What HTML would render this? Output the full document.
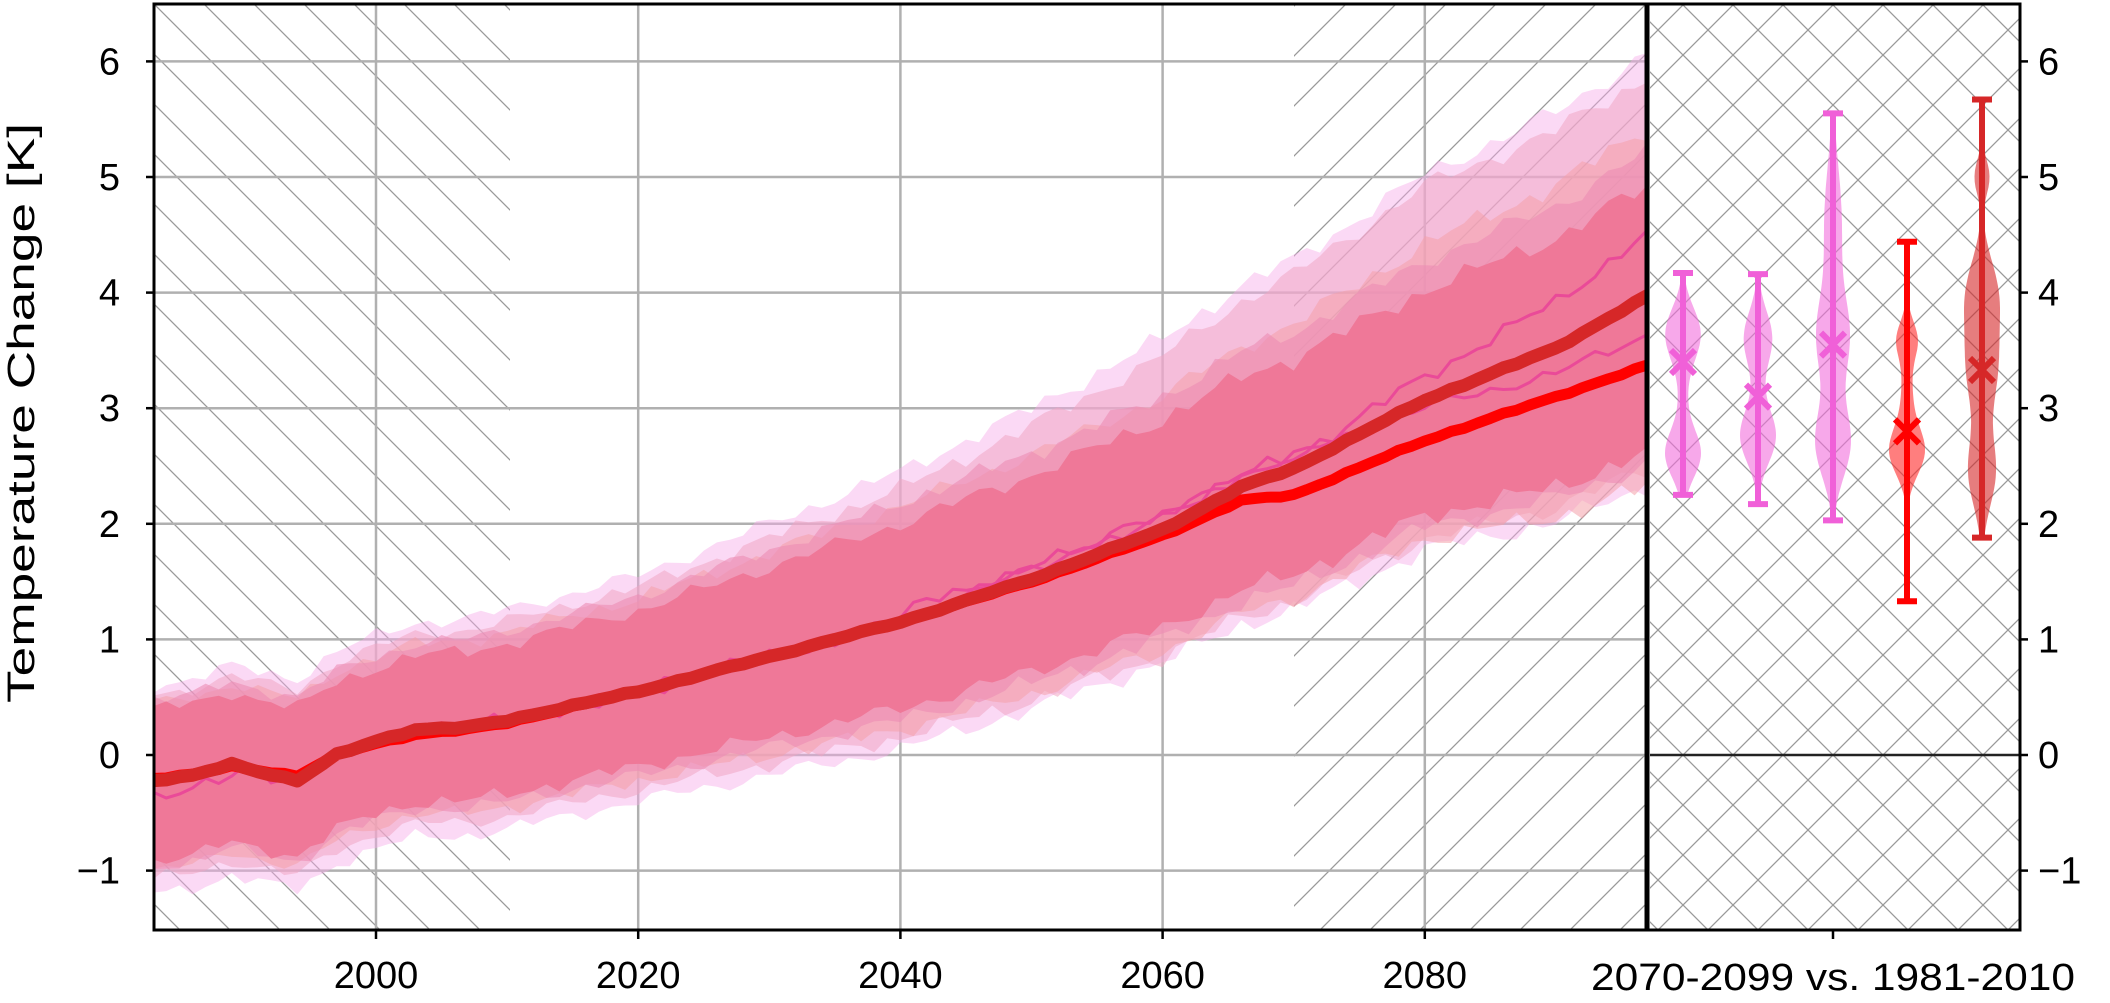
<!DOCTYPE html>
<html><head><meta charset="utf-8"><style>
html,body{margin:0;padding:0;background:#fff;}
svg{display:block;font-family:"Liberation Sans","DejaVu Sans",sans-serif;}
</style></head><body>
<svg id="s" width="2110" height="1003" viewBox="0 0 2110 1003" xmlns="http://www.w3.org/2000/svg">
<defs>
<pattern id="hb" patternUnits="userSpaceOnUse" x="0" y="0" width="50" height="50"><path d="M-5,-5 L55,55 M-5,45 L5,55 M45,-5 L55,5" stroke="#999" stroke-width="1.3"/></pattern>
<pattern id="hf" patternUnits="userSpaceOnUse" x="0" y="0" width="50" height="50"><path d="M-5,55 L55,-5 M-5,5 L5,-5 M45,55 L55,45" stroke="#999" stroke-width="1.3"/></pattern>
<pattern id="hx" patternUnits="userSpaceOnUse" width="50" height="50" x="1683" y="5"><path d="M-5,-5 L55,55 M-5,45 L5,55 M45,-5 L55,5 M-5,55 L55,-5 M-5,5 L5,-5 M45,55 L55,45" stroke="#999" stroke-width="1.3"/></pattern>
<clipPath id="cm"><rect x="154" y="4" width="1492" height="926"/></clipPath>
</defs>
<rect x="154" y="4" width="356" height="926" fill="url(#hb)"/>
<rect x="1294" y="4" width="352" height="926" fill="url(#hf)"/>
<rect x="1650" y="4" width="370" height="926" fill="url(#hx)"/>
<g id="grid" stroke="#b0b0b0" stroke-width="2.5"></g>
<g id="bands" clip-path="url(#cm)"></g>
<g id="lines" clip-path="url(#cm)" fill="none" stroke-linejoin="round"></g>
<line x1="1650" y1="755" x2="2020" y2="755" stroke="#222" stroke-width="2.5"/>
<g id="vio"></g>
<rect x="154" y="4" width="1492" height="926" fill="none" stroke="#000" stroke-width="3"/>
<rect x="1648" y="4" width="372" height="926" fill="none" stroke="#000" stroke-width="3"/>
<g id="ticks" stroke="#000" stroke-width="2.5"></g>
<g id="labels" font-size="38" fill="#000"></g>
<text x="0" y="0" transform="translate(34,413) rotate(-90)" text-anchor="middle" font-size="38" textLength="580" lengthAdjust="spacingAndGlyphs">Temperature Change [K]</text>
<text x="1833" y="990" text-anchor="middle" font-size="38" textLength="484" lengthAdjust="spacingAndGlyphs">2070-2099 vs. 1981-2010</text>
</svg>
<script>
const NS="http://www.w3.org/2000/svg";
function el(p,t,a){const e=document.createElementNS(NS,t);for(const k in a)e.setAttribute(k,a[k]);p.appendChild(e);return e;}
const X=y=>376+(y-2000)*13.11, Y=v=>755-115.6*v;
const g=document.getElementById('grid'),tk=document.getElementById('ticks'),lb=document.getElementById('labels');
for(let v=-1;v<=6;v++){el(g,'line',{x1:154,x2:1646,y1:Y(v),y2:Y(v)});
 el(tk,'line',{x1:146,x2:154,y1:Y(v),y2:Y(v)});el(tk,'line',{x1:2020,x2:2028,y1:Y(v),y2:Y(v)});
 const s=v<0?'\u2212'+(-v):''+v;
 el(lb,'text',{x:120,y:Y(v)+13,'text-anchor':'end'}).textContent=s;
 el(lb,'text',{x:2038,y:Y(v)+13,'text-anchor':'start'}).textContent=s;}
for(let y=2000;y<=2080;y+=20){el(g,'line',{x1:X(y),x2:X(y),y1:4,y2:930});
 el(tk,'line',{x1:X(y),x2:X(y),y1:930,y2:939});
 el(lb,'text',{x:X(y),y:988,'text-anchor':'middle'}).textContent=y;}
el(tk,'line',{x1:1833,x2:1833,y1:930,y2:939});
function interp(ks,vs,t){if(t<=ks[0])return vs[0];for(let i=1;i<ks.length;i++)if(t<=ks[i]){const f=(t-ks[i-1])/(ks[i]-ks[i-1]);return vs[i-1]+f*(vs[i]-vs[i-1]);}return vs[vs.length-1];}
function nz(t,s){return Math.sin(t*1.7+s)*0.5+Math.sin(t*3.1+s*2.3)*0.3+Math.sin(t*0.63+s*5.1)*0.4;}
const T=[];for(let t=1983;t<=2097;t++)T.push(t);
const mk=[1983,1986,1989,1991,1994,1997,2000,2003,2007,2010,2020,2030,2040,2050,2060,2066,2070,2080,2090,2097];
const md=[-0.22,-0.18,-0.08,-0.14,-0.22,0.0,0.12,0.22,0.24,0.3,0.55,0.85,1.15,1.52,1.95,2.32,2.48,3.07,3.52,3.97];
const mr=[-0.2,-0.17,-0.1,-0.13,-0.18,0.0,0.1,0.18,0.22,0.28,0.55,0.85,1.15,1.5,1.9,2.2,2.25,2.72,3.1,3.37];
const m=t=>interp(mk,md,t);
const K=[1983,2000,2020,2040,2060,2080,2097];
const du=[0.62,0.63,0.7,0.85,0.95,0.95,0.95], dl=[0.7,0.63,0.65,0.75,0.85,1.0,1.35];
const layers=[
 {c:'rgba(247,170,232,0.45)',eu:[0.2,0.28,0.3,0.45,0.7,1.0,1.15],el:[0.28,0.3,0.3,0.35,0.3,0.3,0.3],s:1},
 {c:'rgba(240,165,195,0.55)',eu:[0.12,0.18,0.2,0.3,0.55,0.9,0.95],el:[0.15,0.18,0.2,0.25,0.25,0.2,0.15],s:2},
 {c:'rgba(244,160,170,0.55)',eu:[0.05,0.1,0.1,0.15,0.2,0.4,0.5],el:[0.08,0.1,0.12,0.18,0.2,0.2,0.3],s:3},
 {c:'rgba(236,140,180,0.6)',eu:[0.08,0.1,0.12,0.18,0.2,0.25,0.3],el:[0.05,0.05,0.08,0.1,0.1,0.1,0.1],s:5},
 {c:'rgb(239,120,152)',eu:[0,0,0,0,0,0,0],el:[0,0,0,0,0,0,0],s:4}];
const bd=document.getElementById('bands');
layers.forEach(L=>{let up=[],lo=[];
 T.forEach(t=>{const a=0.06+0.04*(t-1983)/114;
  up.push([X(t),Y(m(t)+interp(K,du,t)+interp(K,L.eu,t)+a*nz(t,L.s))]);
  lo.push([X(t),Y(m(t)-interp(K,dl,t)-interp(K,L.el,t)+a*nz(t,L.s+7))]);});
 const pts=up.concat(lo.reverse()).map(p=>p[0].toFixed(1)+','+p[1].toFixed(1)).join(' ');
 el(bd,'polygon',{points:pts,fill:L.c});});
const ln=document.getElementById('lines');
function line(f,c,w,s,a){const p=T.map(t=>X(t).toFixed(1)+','+Y(f(t)+a*nz(t,s)).toFixed(1)).join(' ');el(ln,'polyline',{points:p,stroke:c,'stroke-width':w});}
line(t=>m(t)+(t<1990?-0.12:0)+(t>2040&&t<2080?0.12*Math.sin((t-2040)/40*Math.PI):0)+(t>2070?(t-2070)*0.02:0),'#ea4a98',3,11,0.07);
line(t=>m(t)+(t>2040&&t<2070?0.1:0)+(t>=2070?0.1-(t-2070)*0.016:0),'#ea4a98',3,13,0.06);
line(t=>interp(mk,mr,t),'#f00',11,0,0.01);
line(m,'#d62728',13,0,0.01);
const vg=document.getElementById('vio');
const V=[
 {x:1683,lo:2.25,hi:4.17,mean:3.4,c:'#f060d8',f:'rgba(242,110,220,0.6)',mods:[[3.65,0.22,1],[2.6,0.2,1],[3.1,0.5,0.25]]},
 {x:1758,lo:2.17,hi:4.16,mean:3.1,c:'#f060d8',f:'rgba(242,110,220,0.6)',mods:[[3.62,0.22,0.75],[2.75,0.22,1],[3.2,0.5,0.25]]},
 {x:1833,lo:2.03,hi:5.55,mean:3.55,c:'#f060d8',f:'rgba(242,110,220,0.6)',mods:[[3.6,0.35,0.9],[2.7,0.3,1],[4.6,0.5,0.5]]},
 {x:1907,lo:1.33,hi:4.44,mean:2.8,c:'#ff0000',f:'rgba(255,40,40,0.6)',mods:[[2.62,0.2,1],[3.6,0.15,0.55],[3.1,0.4,0.35]]},
 {x:1982,lo:1.88,hi:5.67,mean:3.33,c:'#d62728',f:'rgba(214,39,40,0.6)',mods:[[4.0,0.3,0.95],[3.35,0.35,1],[2.45,0.3,0.9],[5.0,0.15,0.5]]}];
V.forEach(v=>{const n=80,hw=18;let ws=[],mx=0;
 for(let i=0;i<=n;i++){const y=v.lo+(v.hi-v.lo)*i/n;let w=0;v.mods.forEach(q=>w+=q[2]*Math.exp(-Math.pow((y-q[0])/q[1],2)/2));ws.push([y,w]);mx=Math.max(mx,w);}
 const R=ws.map(p=>[v.x+hw*p[1]/mx,Y(p[0])]),Lf=ws.map(p=>[v.x-hw*p[1]/mx,Y(p[0])]).reverse();
 el(vg,'polygon',{points:R.concat(Lf).map(p=>p[0].toFixed(1)+','+p[1].toFixed(1)).join(' '),fill:v.f});
 el(vg,'line',{x1:v.x,x2:v.x,y1:Y(v.lo),y2:Y(v.hi),stroke:v.c,'stroke-width':6});
 [v.lo,v.hi].forEach(y=>el(vg,'line',{x1:v.x-10,x2:v.x+10,y1:Y(y),y2:Y(y),stroke:v.c,'stroke-width':6}));
 const cy=Y(v.mean);
 el(vg,'path',{d:`M${v.x-12},${cy-12}L${v.x+12},${cy+12}M${v.x-12},${cy+12}L${v.x+12},${cy-12}`,stroke:v.c,'stroke-width':6});});
</script>
</body></html>
